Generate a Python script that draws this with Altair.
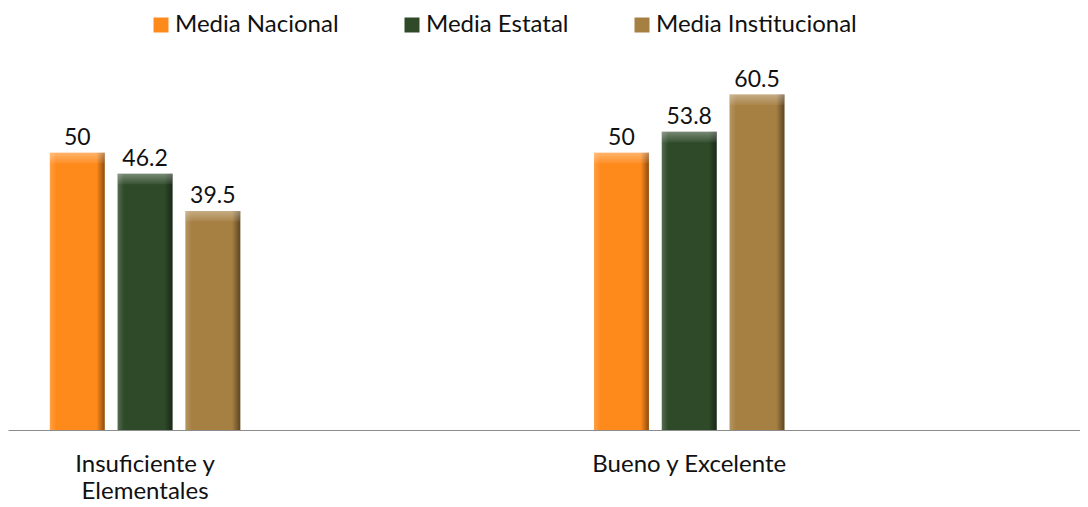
import altair as alt
import pandas as pd

categories = ["Insuficiente y Elementales", "Bueno y Excelente"]
series = ["Media Nacional", "Media Estatal", "Media Institucional"]
nacional = [50, 50]
estatal = [46.2, 53.8]
institucional = [39.5, 60.5]
colors = ["#FF8A1C", "#2E4A29", "#A67F42"]

rows = []
for i, c in enumerate(categories):
    for s, vals in zip(series, [nacional, estatal, institucional]):
        rows.append({"categoria": c, "serie": s, "valor": vals[i]})
df = pd.DataFrame(rows)

FONT = "Lato"

x_enc = alt.X(
    "categoria:N",
    sort=categories,
    scale=alt.Scale(paddingInner=0.65, paddingOuter=0.31, align=0.124),
    axis=alt.Axis(
        title=None,
        labelAngle=0,
        ticks=False,
        domainColor="#8c8c8c",
        domainWidth=1,
        labelFont=FONT,
        labelFontSize=24,
        labelColor="#111111",
        labelPadding=22,
        labelLineHeight=27,
        labelLimit=500,
        labelExpr="datum.label == 'Insuficiente y Elementales' ? ['Insuficiente y', 'Elementales'] : datum.label",
    ),
)
xo_enc = alt.XOffset("serie:N", sort=series, scale=alt.Scale(paddingInner=0.19, paddingOuter=0))
y_enc = alt.Y("valor:Q", scale=alt.Scale(domain=[0, 66], nice=False), axis=None)

base = alt.Chart(df)

bars = base.mark_bar().encode(
    x=x_enc,
    xOffset=xo_enc,
    y=y_enc,
    color=alt.Color(
        "serie:N",
        sort=series,
        scale=alt.Scale(domain=series, range=colors),
        legend=alt.Legend(
            title=None,
            orient="none",
            legendX=141,
            legendY=-51,
            direction="horizontal",
            columns=3,
            columnPadding=61,
            symbolType="square",
            symbolSize=225,
            symbolStrokeWidth=0,
            labelOffset=2,
            labelFont=FONT,
            labelFontSize=24,
            labelLimit=500,
            labelColor="#111111",
        ),
    ),
)

shade = base.mark_bar(
    color=alt.Gradient(
        gradient="linear",
        x1=0, x2=1, y1=0, y2=0,
        stops=[
            alt.GradientStop(offset=0, color="rgba(255,255,255,0.18)"),
            alt.GradientStop(offset=0.12, color="rgba(255,255,255,0.0)"),
            alt.GradientStop(offset=0.85, color="rgba(0,0,0,0.0)"),
            alt.GradientStop(offset=1, color="rgba(0,0,0,0.45)"),
        ],
    )
).encode(x=x_enc, xOffset=xo_enc, y=y_enc)

top = base.transform_calculate(tope="datum.valor - 1.9").mark_bar(
    color=alt.Gradient(
        gradient="linear",
        x1=0, x2=0, y1=0, y2=1,
        stops=[
            alt.GradientStop(offset=0, color="rgba(255,255,255,0.35)"),
            alt.GradientStop(offset=1, color="rgba(255,255,255,0.05)"),
        ],
    )
).encode(x=x_enc, xOffset=xo_enc, y=y_enc, y2="tope:Q")

labels = base.mark_text(
    baseline="alphabetic", dy=-8, font=FONT, fontSize=23, color="#111111"
).encode(x=x_enc, xOffset=xo_enc, y=y_enc, text=alt.Text("valor:N"))

chart = (
    alt.layer(bars, shade, top, labels)
    .properties(width=1072, height=366, padding={"left": 0, "top": 5, "right": 0, "bottom": 0})
    .configure_view(stroke=None)
)

chart.save("out.html", embed_options={"renderer": "svg", "actions": False})
